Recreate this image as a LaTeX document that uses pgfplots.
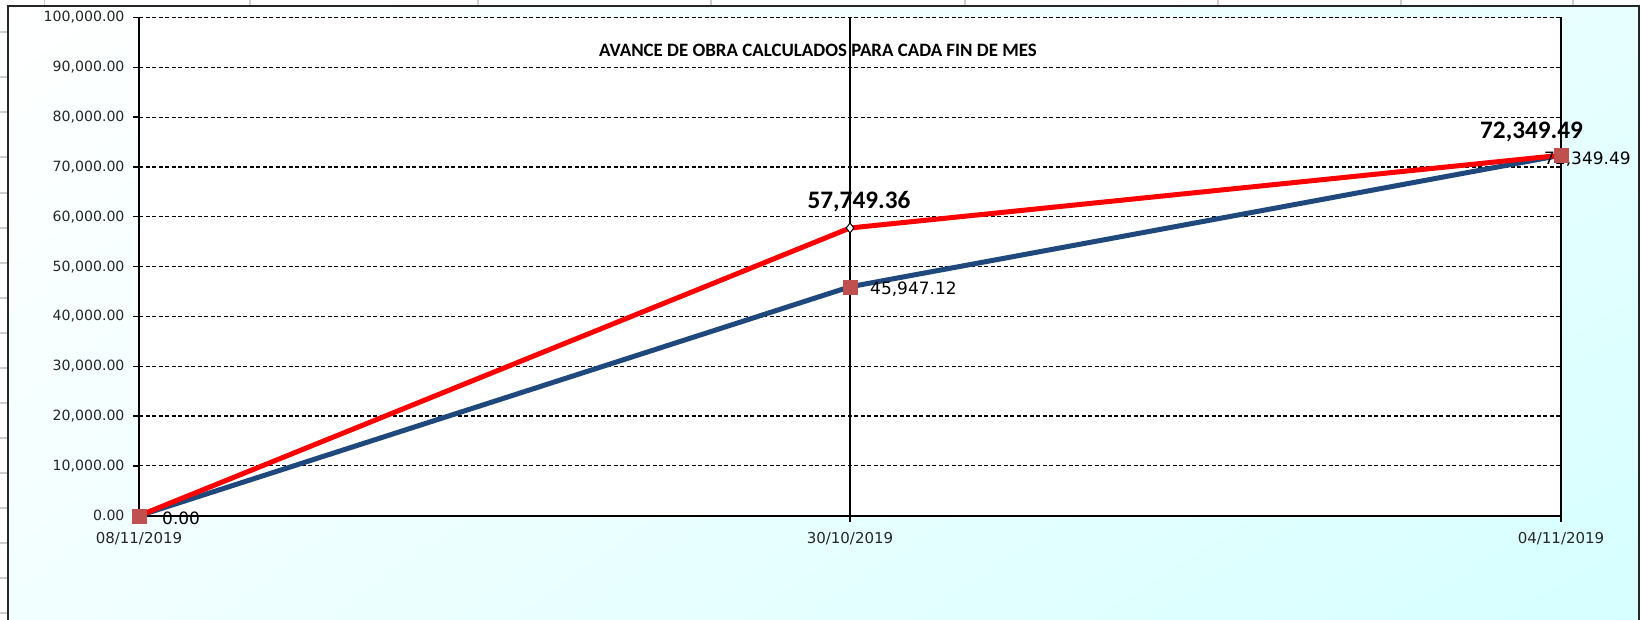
\documentclass[border=0pt]{standalone}
\usepackage{fontspec}
\setmainfont{DejaVu Sans}
\newfontfamily\carlito{Carlito}
\usepackage{pgfplots}
\pgfplotsset{compat=1.18}
\usetikzlibrary{shadings}
\definecolor{serieblue}{RGB}{31,73,125}
\definecolor{seriered}{RGB}{255,0,0}
\definecolor{markred}{RGB}{192,80,77}
\definecolor{cellgray}{RGB}{205,205,205}
\definecolor{cA}{RGB}{232,255,255}
\definecolor{cB}{RGB}{242,255,255}
\definecolor{cC}{RGB}{214,255,255}
\begin{document}
\begin{tikzpicture}[x=1pt,y=1pt]
\useasboundingbox (0,0) rectangle (1641,619);
\clip (0,0) rectangle (1641,619);
% spreadsheet cell lines
\foreach \x in {44.5,250,478,711,965,1218,1401,1573}
  \draw[cellgray, line width=1.2pt] (\x,619) -- (\x,606);
\foreach \y in {32,77,112,157,193,228,263,298,333,368,403,438,473,508,543,578,613}
  \draw[cellgray, line width=1.2pt] (0,619-\y) -- (8,619-\y);
% chart area
\shade[upper left=white, upper right=cA, lower left=cB, lower right=cC]
  (8,-5) rectangle (1639,613);
\draw[line width=2pt, black!85] (8,-5) -- (8,613) -- (1639,613) -- (1639,-5);
\fill[white] (139,103.3) rectangle (1561,601.5);
\begin{axis}[
  at={(139pt,103.3pt)}, anchor=south west,
  scale only axis, width=1422pt, height=498.2pt,
  xmin=0, xmax=2, ymin=0, ymax=100000,
  clip=false,
  axis x line*=bottom, axis y line*=left,
  axis line style={black, line width=1.8pt},
  xtick={0,1,2},
  xticklabels={08/11/2019,30/10/2019,04/11/2019},
  ytick={0,10000,20000,30000,40000,50000,60000,70000,80000,90000,100000},
  yticklabels={0.00,{10,000.00},{20,000.00},{30,000.00},{40,000.00},{50,000.00},{60,000.00},{70,000.00},{80,000.00},{90,000.00},{100,000.00}},
  scaled y ticks=false,
  tick align=outside,
  major tick length=6pt,
  tick style={black, line width=1.4pt},
  xmajorgrids, ymajorgrids,
  major grid style={black},
  every axis x grid/.append style={solid, line width=1.4pt},
  every axis y grid/.append style={line width=1.2pt, dash pattern=on 4pt off 2.5pt},
  y tick label style={font=\fontsize{14.1}{16}\selectfont, text=black!85, anchor=east, xshift=-5pt},
  x tick label style={font=\fontsize{15}{17}\selectfont, text=black!85, yshift=-7pt},
]
\addplot[serieblue, line width=5pt, line join=round, no marks] coordinates {(0,0) (1,45947.12) (2,72349.49)};
\addplot[seriered, line width=5pt, line join=round, mark=diamond*, mark indices={2}, mark size=5pt,
  mark options={fill=white, draw=black, line width=1pt, solid}] coordinates {(0,0) (1,57749.36) (2,72349.49)};
\addplot[only marks, mark=square*, mark size=7pt, color=markred] coordinates {(0,0) (1,45947.12) (2,72349.49)};
\node[font=\fontsize{17}{20}\selectfont, anchor=west, inner sep=0pt, xshift=23pt, yshift=-3pt] at (axis cs:0,0) {0.00};
\node[font=\fontsize{17}{20}\selectfont, anchor=west, inner sep=0pt, xshift=20pt, yshift=-2pt] at (axis cs:1,45947.12) {45,947.12};
\node[font=\fontsize{17}{20}\selectfont, anchor=west, inner sep=0pt, xshift=-17pt, yshift=-4pt] at (axis cs:2,72349.49) {72,349.49};
\node[font=\carlito\bfseries\fontsize{25.2}{28}\selectfont, inner sep=0pt, xshift=9pt, yshift=26pt] at (axis cs:1,57749.36) {57,749.36};
\node[font=\carlito\bfseries\fontsize{25.2}{28}\selectfont, inner sep=0pt, xshift=-29.5pt, yshift=23pt] at (axis cs:2,72349.49) {72,349.49};
\end{axis}
\node[font=\carlito\bfseries\fontsize{18.9}{22}\selectfont, inner sep=0pt] at (818,569) {AVANCE DE OBRA CALCULADOS PARA CADA FIN DE MES};
\end{tikzpicture}
\end{document}
